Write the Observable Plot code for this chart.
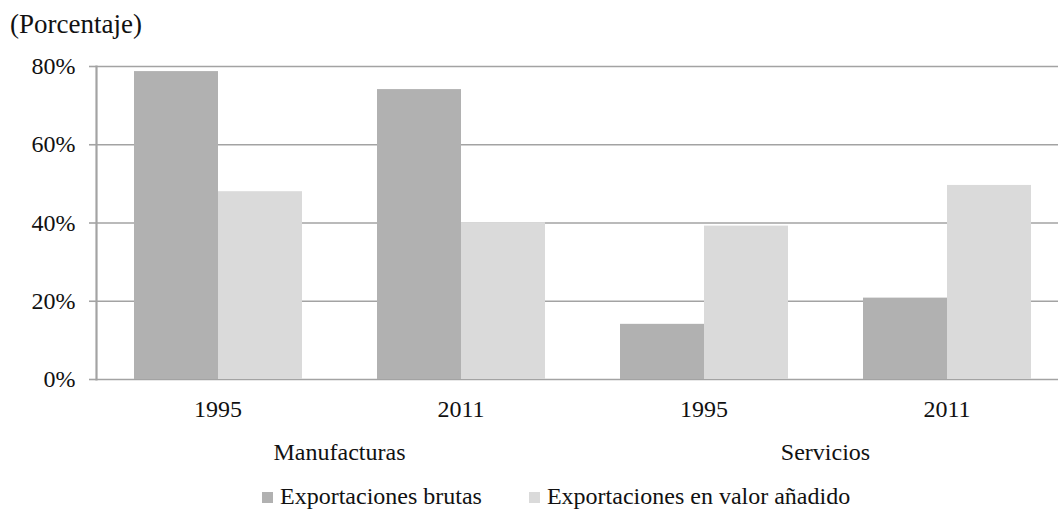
<!DOCTYPE html>
<html>
<head>
<meta charset="utf-8">
<script src="https://cdn.jsdelivr.net/npm/d3@7"></script>
<script src="https://cdn.jsdelivr.net/npm/@observablehq/plot@0.6"></script>
<style>
  html, body { margin: 0; padding: 0; background: #fff; overflow: hidden; }
  body { width: 1058px; height: 515px; font-family: "Liberation Serif", "Times New Roman", serif; color: #111; }
  #title { height: 50px; line-height: 48px; font-size: 27px; padding-left: 10px; }
  #legend { height: 45px; line-height: 52px; font-size: 24px; padding-left: 262px; white-space: nowrap; }
  #legend .item { display: inline-block; margin-right: 47px; }
  #legend .sw { display: inline-block; width: 11px; height: 11px; margin-right: 7px; vertical-align: 1px; }
</style>
</head>
<body>
<div id="title">(Porcentaje)</div>
<div id="chart"></div>
<div id="legend"></div>
<script>
const groups = ["Manufacturas|1995", "Manufacturas|2011", "Servicios|1995", "Servicios|2011"];
const series = ["Exportaciones brutas", "Exportaciones en valor añadido"];
const brutas = [78.7, 74.1, 14.1, 20.8];
const valorAnadido = [48.0, 40.1, 39.2, 49.6];
const colors = ["#b1b1b1", "#dadada"];
const yTicks = [0, 20, 40, 60, 80];
const sectors = [
  {group: "Manufacturas|2011", label: "Manufacturas"},
  {group: "Servicios|2011", label: "Servicios"}
];

const data = [];
groups.forEach((g, i) => {
  data.push({group: g, series: series[0], value: brutas[i]});
  data.push({group: g, series: series[1], value: valorAnadido[i]});
});

const gridColor = "#a3a3a3";

const chart = Plot.plot({
  width: 1058,
  height: 420,
  marginTop: 16,
  marginBottom: 91,
  marginLeft: 96,
  marginRight: 0,
  style: {fontFamily: "'Liberation Serif', 'Times New Roman', serif", fontSize: "24px", color: "#111", background: "white", overflow: "hidden"},
  fx: {domain: groups, range: [96, 1068], padding: 0, label: null},
  x: {domain: series, paddingInner: 0, paddingOuter: 0.43, axis: null},
  y: {domain: [0, 80], label: null},
  color: {domain: series, range: colors},
  marks: [
    Plot.gridY(yTicks, {stroke: gridColor, strokeOpacity: 1, strokeWidth: 1.6}),
    Plot.barY(data, {fx: "group", x: "series", y: "value", fill: "series"}),
    Plot.axisY(yTicks, {tickFormat: d => d + "%", tickSize: 7, tickPadding: 14, stroke: gridColor, strokeWidth: 1.6, label: null}),
    Plot.axisFx({anchor: "bottom", tickSize: 0, tickPadding: 20, label: null, tickFormat: d => d.split("|")[1]}),
    Plot.frame({anchor: "left", stroke: gridColor, strokeWidth: 2.2, fx: () => groups[0]}),
    Plot.text(sectors, {fx: "group", text: "label", frameAnchor: "bottom-left", textAnchor: "middle", lineAnchor: "middle", dy: 73, fill: "#111"})
  ]
});
document.getElementById("chart").appendChild(chart);

const legend = document.getElementById("legend");
series.forEach((s, i) => {
  const item = document.createElement("span");
  item.className = "item";
  const sw = document.createElement("span");
  sw.className = "sw";
  sw.style.background = colors[i];
  item.appendChild(sw);
  item.appendChild(document.createTextNode(s));
  legend.appendChild(item);
});
</script>
</body>
</html>
